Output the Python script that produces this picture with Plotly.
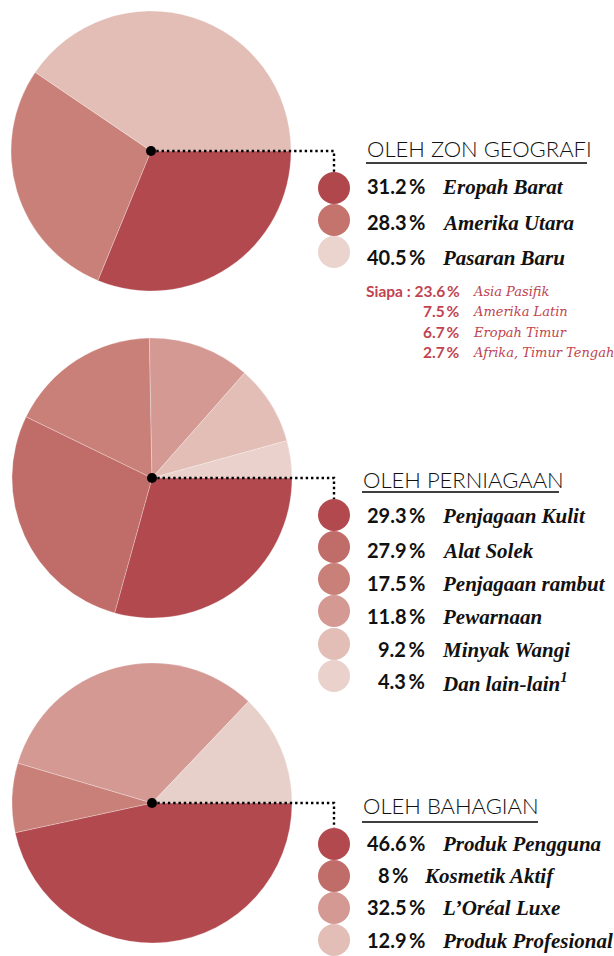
import plotly.graph_objects as go

W, H = 614, 956

# ---- data ----
geo_labels = ["Eropah Barat", "Amerika Utara", "Pasaran Baru"]
geo_values = [31.2, 28.3, 40.5]
geo_pct = ["31.2", "28.3", "40.5"]
geo_colors = ["#B2494F", "#C98079", "#E2BEB6"]
geo_legend_colors = ["#B0474D", "#C4736D", "#EBD3CE"]

siapa_labels = ["Asia Pasifik", "Amerika Latin", "Eropah Timur", "Afrika, Timur Tengah"]
siapa_pct = ["23.6", "7.5", "6.7", "2.7"]

biz_labels = ["Penjagaan Kulit", "Alat Solek", "Penjagaan rambut", "Pewarnaan",
              "Minyak Wangi", "Dan lain-lain<sup>1</sup>"]
biz_values = [29.3, 27.9, 17.5, 11.8, 9.2, 4.3]
biz_pct = ["29.3", "27.9", "17.5", "11.8", "9.2", "4.3"]
biz_colors = ["#B2494F", "#C06C68", "#C98079", "#D59994", "#E2BEB7", "#EAD1CC"]

div_labels = ["Produk Pengguna", "Kosmetik Aktif", "L’Oréal Luxe", "Produk Profesional"]
div_values = [46.6, 8, 32.5, 12.9]
div_pct = ["46.6", "8", "32.5", "12.9"]
div_colors = ["#B2494F", "#C98079", "#D59994", "#E8D0CA"]
div_legend_colors = ["#B2494F", "#C06C68", "#D59994", "#E2BEB7"]

titles = ["OLEH ZON GEOGRAFI", "OLEH PERNIAGAAN", "OLEH BAHAGIAN"]

# ---- layout geometry (pixels) ----
R = 140
centers = [(151, 151), (152, 478), (152, 803)]
title_pos = [(366, 148, 587, 163), (362, 479, 559, 492), (362, 805, 538, 822)]
circle_x = 334
circle_rows = [[188, 220, 252],
               [515, 547, 579, 611, 644, 676],
               [844, 876, 908, 940]]
text_rows = [[186, 222, 257],
             [515, 550, 583, 616, 649, 681],
             [843, 875, 907, 940]]

DARK = "#111111"
RED = "#BF4450"
SANS = "Lato"
SERIF = "Liberation Serif"

fig = go.Figure()

groups = [
    (geo_values, geo_colors, geo_labels),
    (biz_values, biz_colors, biz_labels),
    (div_values, div_colors, div_labels),
]
for (vals, cols, labs), (cx, cy) in zip(groups, centers):
    fig.add_trace(go.Pie(
        values=vals, labels=labs, sort=False, direction="clockwise", rotation=90,
        marker=dict(colors=cols, line=dict(color="rgba(255,255,255,0.45)", width=0.6)),
        textinfo="none", hoverinfo="label+percent", showlegend=False,
        domain=dict(x=[(cx - R) / W, (cx + R) / W], y=[1 - (cy + R) / H, 1 - (cy - R) / H]),
    ))

# legend circles
leg_cols = [geo_legend_colors, biz_colors, div_legend_colors]
for rows, cols in zip(circle_rows, leg_cols):
    fig.add_trace(go.Scatter(
        x=[circle_x] * len(rows), y=rows, mode="markers",
        marker=dict(size=32, color=cols, line=dict(width=0)),
        hoverinfo="skip", showlegend=False, xaxis="x", yaxis="y",
    ))

shapes = []
annotations = []

for i, (cx, cy) in enumerate(centers):
    top = circle_rows[i][0] - 16
    shapes.append(dict(type="path", xref="x", yref="y",
                       path=f"M {cx},{cy} L {circle_x},{cy} L {circle_x},{top}",
                       line=dict(color="black", width=2.4, dash="2.4px,2.9px"),
                       layer="above"))
    shapes.append(dict(type="circle", xref="x", yref="y",
                       x0=cx - 5, x1=cx + 5, y0=cy - 5, y1=cy + 5,
                       fillcolor="black", line=dict(width=0), layer="above"))
    tx, ty, ux, uy = title_pos[i]
    shapes.append(dict(type="line", xref="x", yref="y", x0=tx, x1=ux, y0=uy, y1=uy,
                       line=dict(color="black", width=1.4)))
    annotations.append(dict(x=tx - 1, y=ty, xref="x", yref="y", text=titles[i],
                            showarrow=False, xanchor="left", yanchor="middle",
                            font=dict(family=SANS, size=22, color=DARK, weight=300)))

pct_groups = [geo_pct, biz_pct, div_pct]
lab_groups = [geo_labels, biz_labels, div_labels]
for g in range(3):
    for j, (p, lab) in enumerate(zip(pct_groups[g], lab_groups[g])):
        y = text_rows[g][j]
        right = 427
        lab_x = 440
        if g == 2 and j == 1:
            right = 411
            lab_x = 422
        annotations.append(dict(x=right, y=y, xref="x", yref="y", text=p + "\u2009%",
                                showarrow=False, xanchor="right", yanchor="middle",
                                font=dict(family=SANS, size=20, color=DARK, weight="bold")))
        annotations.append(dict(x=lab_x, y=y + 1, xref="x", yref="y", text="<i>" + lab + "</i>",
                                showarrow=False, xanchor="left", yanchor="middle",
                                font=dict(family=SERIF, size=21, color=DARK, weight="bold")))

# Siapa block
siapa_rows = [291, 311, 332, 352]
for k, (y, p, lab) in enumerate(zip(siapa_rows, siapa_pct, siapa_labels)):
    txt = ("Siapa : " if k == 0 else "") + p + "\u2009%"
    annotations.append(dict(x=462, y=y, xref="x", yref="y", text=txt,
                            showarrow=False, xanchor="right", yanchor="middle",
                            font=dict(family=SANS, size=15.5, color=RED, weight="bold")))
    annotations.append(dict(x=471, y=y, xref="x", yref="y", text="<i>" + lab + "</i>",
                            showarrow=False, xanchor="left", yanchor="middle",
                            font=dict(family="DejaVu Serif", size=13, color=RED)))

fig.update_layout(
    width=W, height=H, autosize=False,
    margin=dict(l=0, r=0, t=0, b=0, pad=0),
    paper_bgcolor="white", plot_bgcolor="rgba(0,0,0,0)",
    xaxis=dict(range=[0, W], domain=[0, 1], visible=False, fixedrange=True),
    yaxis=dict(range=[H, 0], domain=[0, 1], visible=False, fixedrange=True),
    shapes=shapes, annotations=annotations, showlegend=False,
)

fig.write_html("out.html", config={"displayModeBar": False},
               post_script="document.body.style.margin='0px';document.body.style.padding='0px';")
